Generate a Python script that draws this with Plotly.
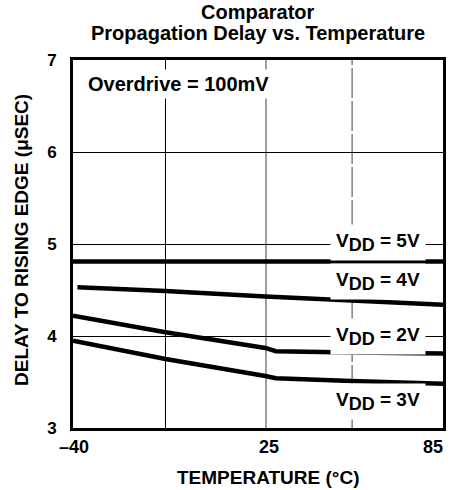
import plotly.graph_objects as go

# ---- data ----
temp_5v = [-40, 85]
delay_5v = [4.81, 4.81]

temp_4v = [-38.5, -8.75, 25, 54, 85]
delay_4v = [4.53, 4.49, 4.43, 4.39, 4.34]

temp_2v = [-40, -8.75, 25, 28.5, 54, 85]
delay_2v = [4.22, 4.04, 3.87, 3.835, 3.82, 3.81]

temp_3v = [-40, -8.75, 25, 28.5, 54, 85]
delay_3v = [3.95, 3.75, 3.565, 3.54, 3.51, 3.48]

series_names = ["V<sub>DD</sub> = 5V", "V<sub>DD</sub> = 4V", "V<sub>DD</sub> = 2V", "V<sub>DD</sub> = 3V"]
label_x = [63, 63, 63, 63]
label_y = [5.02, 4.59, 4.0, 3.29]

x_tick_vals = [-40, 25, 85]
x_tick_text = ["\u201340", "25", "85"]
y_tick_vals = [3, 4, 5, 6, 7]
y_tick_text = ["3", "4", "5", "6", "7"]
x_grid_vals = [-8.75, 25.2, 54.3]

title_lines = ["Comparator", "Propagation Delay vs. Temperature"]

FONT = "Liberation Sans, Arial, Helvetica, sans-serif"

fig = go.Figure()
for xs, ys in [(temp_5v, delay_5v), (temp_4v, delay_4v), (temp_2v, delay_2v), (temp_3v, delay_3v)]:
    fig.add_trace(go.Scatter(x=xs, y=ys, mode="lines",
                             line=dict(color="black", width=4.5),
                             showlegend=False, hoverinfo="skip"))

# vertical grid lines
grid_styles = [dict(color="black", width=1, dash="solid"),
               dict(color="#808080", width=1.5, dash="solid"),
               dict(color="#808080", width=1.5, dash="30px,3px")]
for gx, st in zip(x_grid_vals, grid_styles):
    fig.add_shape(type="line", xref="x", yref="paper", x0=gx, x1=gx, y0=0, y1=1,
                  line=st, layer="below")

# series labels
for name, lx, ly in zip(series_names, label_x, label_y):
    txt = name.replace("<sub>DD</sub>", "<sub><span style='font-size:18px'>DD</span></sub>")
    fig.add_annotation(x=lx, y=ly, xref="x", yref="y", text=txt, showarrow=False,
                       font=dict(family=FONT, size=19, color="black", weight="bold"),
                       bgcolor="white", borderpad=5, xanchor="center", yanchor="middle")

fig.add_annotation(x=-4.5, y=6.74, xref="x", yref="y", text="Overdrive = 100mV",
                   showarrow=False, bgcolor="white", borderpad=3,
                   font=dict(family=FONT, size=20, color="black", weight="bold"))

# x tick labels
anchors = ["center", "center", "right"]
shifts = [1, 4, 2]
for v, t, a, s in zip(x_tick_vals, x_tick_text, anchors, shifts):
    fig.add_annotation(x=v, y=0, xref="x", yref="paper", text=t, showarrow=False,
                       xanchor=a, yanchor="middle", yshift=-19, xshift=s,
                       font=dict(family=FONT, size=18, color="black", weight="bold"))

# axis titles
fig.add_annotation(x=0.5, y=0, xref="paper", yref="paper", text="TEMPERATURE (\u00b0C)",
                   showarrow=False, xanchor="center", yanchor="middle", yshift=-49, xshift=10,
                   font=dict(family=FONT, size=19, color="black", weight="bold"))
fig.add_annotation(x=0, y=0.511, xref="paper", yref="paper",
                   text="DELAY TO RISING EDGE (\u03bcSEC)", textangle=-90,
                   showarrow=False, xanchor="center", yanchor="middle", xshift=-51,
                   font=dict(family=FONT, size=19, color="black", weight="bold"))

# title (two lines)
for line_text, ys in zip(title_lines, [48, 27]):
    fig.add_annotation(x=0.5, y=1, xref="paper", yref="paper", text=line_text,
                       showarrow=False, xanchor="center", yanchor="middle", yshift=ys,
                       font=dict(family=FONT, size=20, color="black", weight="bold"))

fig.update_layout(
    width=458, height=490,
    margin=dict(l=73, r=15, t=60, b=62),
    paper_bgcolor="white", plot_bgcolor="white",
    hovermode=False,
    xaxis=dict(range=[-40, 85], showgrid=False, zeroline=False, automargin=False,
               tickvals=x_tick_vals, ticktext=["", "", ""], ticks="",
               showline=True, mirror=True, linecolor="black", linewidth=3),
    yaxis=dict(range=[3, 7], showgrid=True, gridcolor="black", gridwidth=1,
               zeroline=False, automargin=False,
               tickvals=y_tick_vals, ticktext=y_tick_text, ticks="",
               ticklabelstandoff=10,
               tickfont=dict(family=FONT, size=17, color="black", weight="bold"),
               showline=True, mirror=True, linecolor="black", linewidth=3),
)

fig.write_html("out.html", config={"displayModeBar": False},
               post_script="document.body.style.margin='0';document.body.style.overflow='hidden';")
